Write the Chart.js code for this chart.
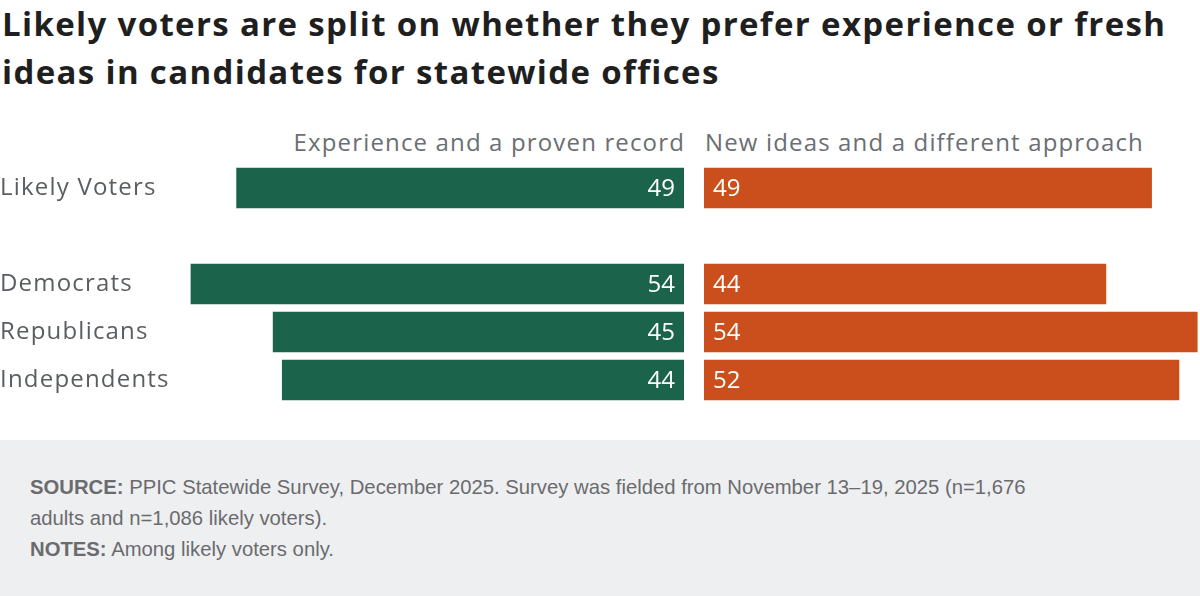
<!DOCTYPE html>
<html>
<head>
<meta charset="utf-8">
<script src="https://cdn.jsdelivr.net/npm/chart.js@4"></script>
<style>
  body { margin: 0; background: #fff; width: 1200px; height: 596px; overflow: hidden; position: relative; font-family: "Open Sans", sans-serif; }
  .title { position: absolute; left: 2px; top: 0px; width: 1196px; font-family: "Open Sans", sans-serif; font-weight: 700; font-size: 33px; line-height: 48px; color: #1f1f1f; letter-spacing: 1.35px; }
  .head { position: absolute; top: 125px; font-size: 24px; color: #6b6e72; white-space: nowrap; letter-spacing: 1.15px; }
  .wrap { position: absolute; top: 164px; height: 240px; }
  .footer { position: absolute; left: 0; top: 440px; width: 1200px; height: 156px; background: #eeeff1; }
  .footer p { margin: 0; position: absolute; left: 30px; width: 1160px; font-family: "Liberation Sans", Arial, sans-serif; font-size: 20.3px; line-height: 31px; color: #6b6b6e; white-space: nowrap; }
</style>
</head>
<body>
<div class="title">Likely voters are split on whether they prefer experience or fresh<br>ideas in candidates for statewide offices</div>
<div class="head" id="headLeft" style="right:515px;">Experience and a proven record</div>
<div class="head" id="headRight" style="left:705px;">New ideas and a different approach</div>
<div class="wrap" style="left:0; width:684px;"><canvas id="chartLeft"></canvas></div>
<div class="wrap" style="left:704px; width:496px;"><canvas id="chartRight"></canvas></div>
<div class="footer">
  <p style="top:32px;"><b>SOURCE:</b> PPIC Statewide Survey, December 2025. Survey was fielded from November 13–19, 2025 (n=1,676<br>adults and n=1,086 likely voters).<br><b>NOTES:</b> Among likely voters only.</p>
</div>
<script>
const categories = ['Likely Voters', '', 'Democrats', 'Republicans', 'Independents'];
const experience = [49, null, 54, 45, 44];
const newIdeas = [49, null, 44, 54, 52];

const green = '#1b644b';
const orange = '#cb4f1c';
const fontFamily = '"Open Sans", sans-serif';

// wider tracking for the category labels, like the original typeface
const tracking = {
    id: 'tracking',
    beforeDraw(chart) {
        chart.ctx.letterSpacing = '1.2px';
    }
};

const valueLabels = {
    id: 'valueLabels',
    afterDatasetsDraw(chart, args, opts) {
        const ctx = chart.ctx;
        const meta = chart.getDatasetMeta(0);
        ctx.save();
        ctx.letterSpacing = '0px';
        ctx.fillStyle = '#ffffff';
        ctx.font = '24px ' + fontFamily;
        ctx.textBaseline = 'middle';
        meta.data.forEach((bar, i) => {
            const v = chart.data.datasets[0].data[i];
            if (v === null) return;
            if (opts.side === 'left') {
                ctx.textAlign = 'right';
                ctx.fillText(v, bar.base - 9, bar.y + 1);
            } else {
                ctx.textAlign = 'left';
                ctx.fillText(v, bar.base + 9, bar.y + 1);
            }
        });
        ctx.restore();
    }
};

function makeChart(el, values, color, side) {
    const yAxis = {
        display: side === 'left',
        grid: { display: false },
        border: { display: false },
        ticks: {
            crossAlign: 'far',
            padding: 0,
            color: '#5a5d61',
            font: { family: fontFamily, size: 24 }
        }
    };
    if (side === 'left') {
        yAxis.afterFit = (axis) => {
            axis.width = 180;
            axis.paddingTop = 0;
            axis.paddingBottom = 0;
        };
    }
    return new Chart(el, {
        type: 'bar',
        data: {
            labels: categories,
            datasets: [{ data: values, backgroundColor: color, barThickness: 40 }]
        },
        options: {
            indexAxis: 'y',
            responsive: true,
            maintainAspectRatio: false,
            animation: false,
            layout: { padding: 0 },
            plugins: {
                legend: { display: false },
                tooltip: { enabled: false },
                valueLabels: { side: side }
            },
            scales: {
                x: {
                    display: false,
                    min: 0,
                    max: side === 'left' ? 55.2 : 54.3,
                    reverse: side === 'left'
                },
                y: yAxis
            }
        },
        plugins: [tracking, valueLabels]
    });
}

makeChart(document.getElementById('chartLeft'), experience, green, 'left');
makeChart(document.getElementById('chartRight'), newIdeas, orange, 'right');
</script>
</body>
</html>
